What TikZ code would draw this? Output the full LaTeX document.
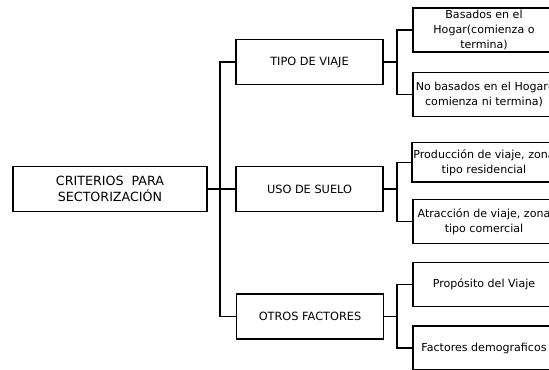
\documentclass[tikz,border=0pt]{standalone}
\usepackage{fontspec}
\setmainfont{DejaVu Sans}
\begin{document}
\begin{tikzpicture}[x=0.75pt,y=-0.75pt,line cap=rect,line join=miter]
  \tikzset{
    box/.style={draw,line width=1pt,align=center,inner sep=1pt},
    mainbox/.style={box,minimum width=145.5pt,minimum height=33.75pt,font=\fontsize{9.5}{12}\selectfont},
    midbox/.style={box,minimum width=110.25pt,minimum height=33.75pt,font=\fontsize{8.5}{11}\selectfont},
    leafbox/.style={box,minimum width=106.5pt,minimum height=33pt,font=\fontsize{8.3}{11.2}\selectfont},
    link/.style={line width=1pt}
  }
  \useasboundingbox (0,0) rectangle (549,370);
  \clip (0,0) rectangle (549,370);
  % root
  \node[mainbox] (crit) at (110,189) {CRITERIOS\ \ PARA\\SECTORIZACIÓN};
  % second level
  \node[midbox] (tipo) at (309.5,62) {TIPO DE VIAJE};
  \node[midbox] (uso) at (309.5,189) {USO DE SUELO};
  \node[midbox] (otros) at (310,316.5) {OTROS FACTORES};
  % leaves
  \node[leafbox] (bas) at (484,30) {Basados en el\\Hogar(comienza o\\termina)};
  \node[leafbox] (nobas) at (484,94.5) {No basados en el Hogar(\\comienza ni termina)};
  \node[leafbox,minimum height=29.5pt] (prod) at (484,162.5) {Producción de viaje, zona\\tipo residencial};
  \node[leafbox] (atr) at (484,221.5) {Atracción de viaje, zona\\tipo comercial};
  \node[leafbox] (prop) at (484,284.5) {Propósito del Viaje};
  \node[leafbox] (fact) at (484,348) {Factores demograficos};
  % buses
  \coordinate (bcrit) at (220,189);
  \coordinate (btipo) at (397,62);
  \coordinate (buso) at (397,189);
  \coordinate (botros) at (397,316.5);
  \draw[link] (crit.east) -- (bcrit);
  \draw[link] (bcrit) |- (tipo.west);
  \draw[link] (bcrit) -- (uso.west);
  \draw[link] (bcrit) |- (otros.west);
  \draw[link] (tipo.east) -- (btipo) |- (bas.west);
  \draw[link] (btipo) |- (nobas.west);
  \draw[link] (uso.east) -- (buso) |- (prod.west);
  \draw[link] (buso) |- (atr.west);
  \draw[link] (otros.east) -- (botros) |- (prop.west);
  \draw[link] (botros) |- (fact.west);
\end{tikzpicture}
\end{document}
